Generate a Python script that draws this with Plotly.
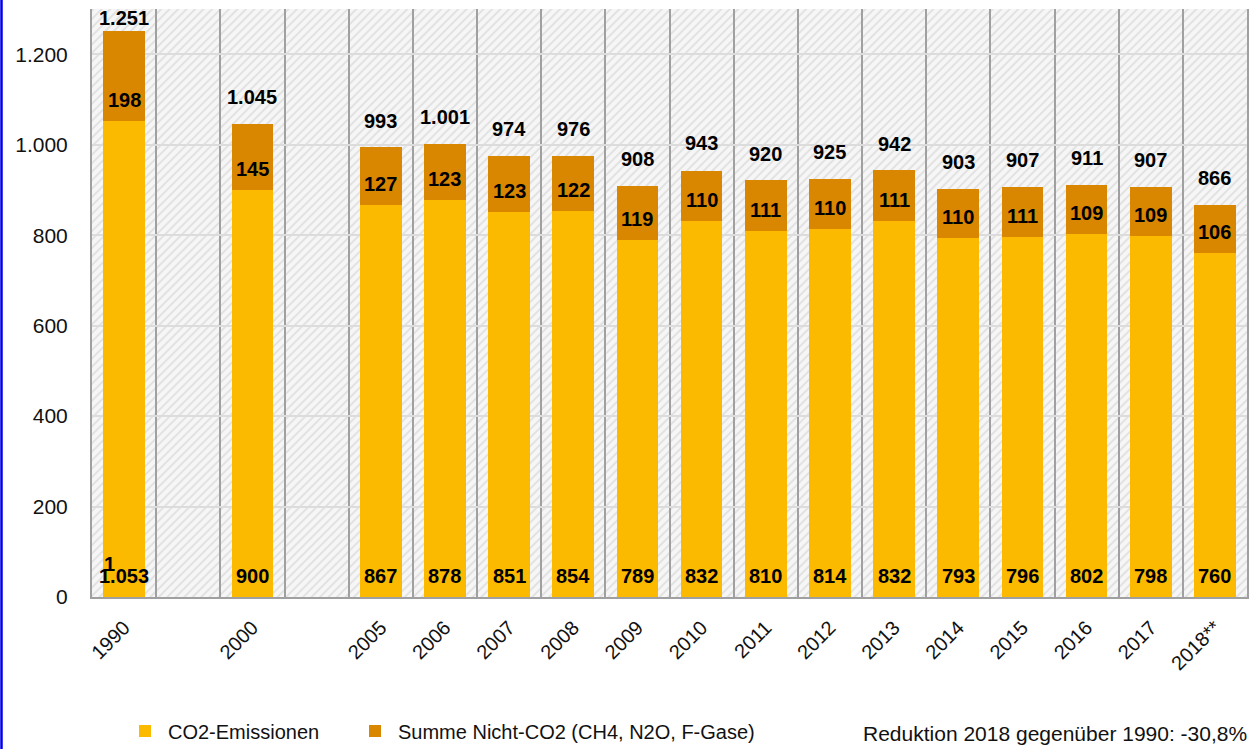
import plotly.graph_objects as go
import urllib.parse

# ---- data ----
categories = ["1990", " ", "2000", "  ", "2005", "2006", "2007", "2008", "2009", "2010",
              "2011", "2012", "2013", "2014", "2015", "2016", "2017", "2018**"]
co2 = [1053, None, 900, None, 867, 878, 851, 854, 789, 832, 810, 814, 832, 793, 796, 802, 798, 760]
non_co2 = [198, None, 145, None, 127, 123, 123, 122, 119, 110, 111, 110, 111, 110, 111, 109, 109, 106]
totals = [1251, None, 1045, None, 993, 1001, 974, 976, 908, 943, 920, 925, 942, 903, 907, 911, 907, 866]
y_ticks = [0, 200, 400, 600, 800, 1000, 1200]
series_names = ["CO2-Emissionen", "Summe Nicht-CO2 (CH4, N2O, F-Gase)"]
note_text = "Reduktion 2018 gegenüber 1990: -30,8%"

# ---- styling ----
W, H = 1252, 749
ML, MR, MT, MB = 92, 5, 9, 152
PW, PH = W - ML - MR, H - MT - MB
YMAX = 1300
C_CO2 = "#FBBA00"
C_NON = "#D98600"
FONT = "Liberation Sans, Arial, sans-serif"


def de(v):
    return f"{v:,}".replace(",", ".")


fig = go.Figure()
fig.add_trace(go.Bar(x=categories, y=co2, name=series_names[0], marker_color=C_CO2,
                     marker_line_width=0, width=0.65, legend="legend2"))
fig.add_trace(go.Bar(x=categories, y=non_co2, name=series_names[1], marker_color=C_NON,
                     marker_line_width=0, width=0.65, legend="legend3"))

ppu = PH / YMAX
annotations = []
lab_font = dict(family=FONT, size=20, color="#000000")
for i, (a, b, t) in enumerate(zip(co2, non_co2, totals)):
    if a is None:
        continue
    annotations.append(dict(x=i, y=0, text=f"<b>{de(a)}</b>", showarrow=False,
                            yshift=21, font=lab_font, xref="x", yref="y"))
    annotations.append(dict(x=i, y=a, text=f"<b>{de(b)}</b>", showarrow=False,
                            yshift=21, font=lab_font, xref="x", yref="y"))
    shift = min(27, (YMAX - t) * ppu - 9)
    annotations.append(dict(x=i, y=t, text=f"<b>{de(t)}</b>", showarrow=False,
                            yshift=shift, font=lab_font, xref="x", yref="y"))
# stray overlapping "1" as in the original graphic
annotations.append(dict(x=0, y=0, text="<b>1</b>", showarrow=False,
                        xshift=-15, yshift=33, font=lab_font, xref="x", yref="y"))
annotations.append(dict(x=1.0015, y=(597 - 733) / PH,
                        xref="paper", yref="paper",
                        text=note_text, showarrow=False, xanchor="right", yanchor="middle",
                        font=dict(family=FONT, size=21, color="#111111")))

# hatched background
svg = (f"<svg xmlns='http://www.w3.org/2000/svg' width='{PW}' height='{PH}'>"
       "<defs><pattern id='p' width='6' height='6' patternUnits='userSpaceOnUse' "
       "patternTransform='rotate(45)'>"
       "<rect width='6' height='6' fill='#f6f6f6'/>"
       "<rect width='2' height='6' fill='#e2e2e2'/></pattern></defs>"
       f"<rect width='{PW}' height='{PH}' fill='url(#p)'/></svg>")
src = "data:image/svg+xml;charset=utf-8," + urllib.parse.quote(svg)

leg_common = dict(orientation="h", yanchor="middle", xanchor="left", itemwidth=36,
                  y=(597 - 731) / PH, bgcolor="rgba(0,0,0,0)",
                  font=dict(family=FONT, size=20, color="#111111"))

fig.update_layout(
    width=W, height=H,
    margin=dict(l=ML, r=MR, t=MT, b=MB, pad=0, autoexpand=False),
    barmode="stack",
    paper_bgcolor="white",
    plot_bgcolor="rgba(0,0,0,0)",
    separators=",.",
    font=dict(family=FONT, size=19, color="#111111"),
    images=[dict(source=src, xref="x domain", yref="y domain", x=0, y=1, sizex=1, sizey=1,
                 xanchor="left", yanchor="top", sizing="stretch", layer="below")],
    legend2=dict(x=(122 - ML) / PW, **leg_common),
    legend3=dict(x=(352 - ML) / PW, **leg_common),
    annotations=annotations,
    shapes=[dict(type="line", xref="paper", yref="paper",
                 x0=(1.5 - ML) / PW, x1=(1.5 - ML) / PW,
                 y0=-MB / PH, y1=1 + MT / PH,
                 line=dict(color="#0000EE", width=2.5))],
    bargap=0.35,
)
fig.update_xaxes(type="category", categoryorder="array", categoryarray=categories,
                 tickson="boundaries", showgrid=True, gridcolor="#a0a0a0", gridwidth=2,
                 showline=True, linecolor="#a0a0a0", linewidth=2, ticks="",
                 tickangle=-45, tickfont=dict(family=FONT, size=20, color="#111111"),
                 ticklabelstandoff=9, automargin=False,
                 range=[-0.5, len(categories) - 0.5], fixedrange=True)
fig.update_yaxes(range=[0, YMAX], tickvals=y_ticks, separatethousands=True,
                 showgrid=True, gridcolor="#dcdcdc", gridwidth=2,
                 showline=True, linecolor="#a0a0a0", linewidth=2, mirror=True,
                 ticks="", ticklabelstandoff=18, zeroline=False, automargin=False,
                 tickfont=dict(family=FONT, size=21, color="#111111"))

fig.write_html("out.html", config={"displayModeBar": False},
               post_script="document.body.style.margin='0';document.body.style.overflow='hidden';")
